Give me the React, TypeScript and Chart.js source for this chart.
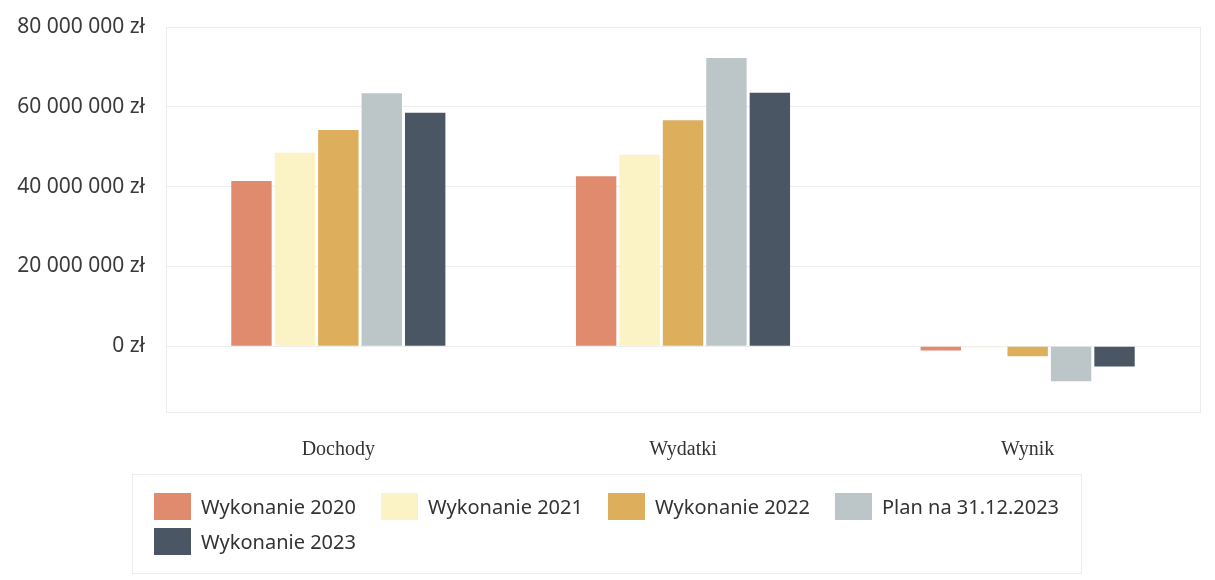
import React, { useEffect, useRef } from "react";
import { Chart, registerables } from "chart.js";

Chart.register(...registerables);

const categories = ["Dochody", "Wydatki", "Wynik"];
const seriesLabels = ["Wykonanie 2020", "Wykonanie 2021", "Wykonanie 2022", "Plan na 31.12.2023", "Wykonanie 2023"];
const seriesColors = ["#E08A6E", "#FBF2C6", "#DDAE5C", "#BCC5C8", "#4B5665"];
const wykonanie2020 = [41400000, 42600000, -1100000];
const wykonanie2021 = [48500000, 48000000, -300000];
const wykonanie2022 = [54200000, 56600000, -2500000];
const plan2023 = [63400000, 72200000, -8800000];
const wykonanie2023 = [58500000, 63500000, -5100000];
const seriesValues = [wykonanie2020, wykonanie2021, wykonanie2022, plan2023, wykonanie2023];
const yMin = -16500000;
const yMax = 80000000;
const yTicks = [0, 20000000, 40000000, 60000000, 80000000];

function formatZl(v: number): string {
  return String(Math.round(v)).replace(/\B(?=(\d{3})+(?!\d))/g, " ") + " zł";
}

const boxPlugin = {
  id: "plotBox",
  beforeDatasetsDraw(chart: any) {
    const { ctx, chartArea } = chart;
    ctx.save();
    ctx.strokeStyle = "#ececec";
    ctx.lineWidth = 1;
    ctx.strokeRect(chartArea.left + 0.5, chartArea.top + 0.5, chartArea.right - chartArea.left, chartArea.bottom - chartArea.top);
    ctx.restore();
  },
};

export default function App() {
  const canvasRef = useRef<HTMLCanvasElement | null>(null);

  useEffect(() => {
    if (!canvasRef.current) return;
    const chart = new Chart(canvasRef.current, {
      type: "bar",
      data: {
        labels: categories,
        datasets: seriesLabels.map((label, i) => ({
          label,
          data: seriesValues[i],
          backgroundColor: seriesColors[i],
          borderWidth: 0,
          barPercentage: 0.93,
          categoryPercentage: 0.63,
        })),
      },
      options: {
        animation: false,
        responsive: false,
        maintainAspectRatio: false,
        layout: { padding: { top: 27, right: 15, bottom: 0, left: 0 } },
        plugins: {
          legend: { display: false },
          tooltip: { enabled: false },
        },
        scales: {
          x: {
            grid: { display: false },
            border: { display: false },
            ticks: {
              padding: 18,
              color: "#333333",
              font: { family: "'Liberation Serif', 'Times New Roman', serif", size: 20 },
            },
            afterFit(scale: any) {
              scale.height = 68;
            },
          },
          y: {
            min: yMin,
            max: yMax,
            grid: { color: "#ededed", drawTicks: false },
            border: { display: false },
            afterBuildTicks(scale: any) {
              scale.ticks = yTicks.map((v) => ({ value: v }));
            },
            ticks: {
              padding: 21,
              color: "#3a3a3a",
              font: { family: "'Noto Sans', sans-serif", size: 21 },
              callback: (v: any) => formatZl(Number(v)),
            },
            afterFit(scale: any) {
              scale.width = 166;
              scale.paddingTop = 0;
              scale.paddingBottom = 0;
            },
          },
        },
      },
      plugins: [boxPlugin],
    });
    return () => chart.destroy();
  }, []);

  return (
    <div style={{ position: "fixed", left: 0, top: 0, width: 1215, height: 580, background: "#fff" }}>
      <canvas ref={canvasRef} width={1215} height={480} style={{ position: "absolute", left: 0, top: 0 }} />
      <div
        style={{
          position: "absolute",
          left: 132,
          top: 474,
          width: 950,
          height: 100,
          boxSizing: "border-box",
          border: "1px solid #ececec",
          paddingLeft: 21,
          paddingTop: 18,
          display: "flex",
          flexWrap: "wrap",
          alignContent: "flex-start",
        }}
      >
        {seriesLabels.map((label, i) => (
          <div key={label} style={{ width: 227, height: 35, display: "flex", alignItems: "flex-start" }}>
            <div style={{ width: 37, height: 27, background: seriesColors[i], flex: "none" }} />
            <span
              style={{
                marginLeft: 10,
                fontFamily: "'Noto Sans', sans-serif",
                fontSize: 20,
                lineHeight: "27px",
                color: "#333333",
                whiteSpace: "nowrap",
              }}
            >
              {label}
            </span>
          </div>
        ))}
      </div>
    </div>
  );
}
